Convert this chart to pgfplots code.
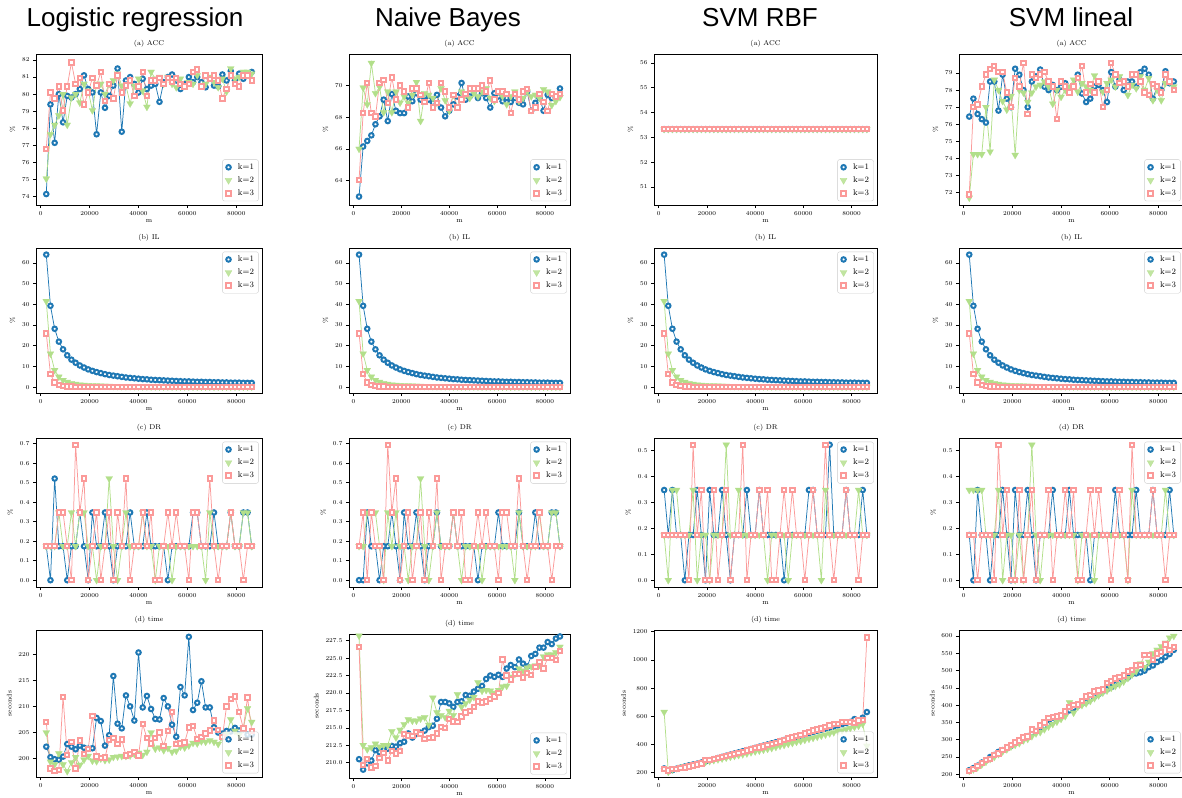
\documentclass[border=0pt]{standalone}
\usepackage{fontspec}
\usepackage{pgfplots}
\usepackage{pgfplotstable}
\pgfplotsset{compat=1.18}
\newfontfamily\headfont{Liberation Sans}
\definecolor{c1}{HTML}{1F78B4}
\definecolor{c2}{HTML}{B2DF8A}
\definecolor{c3}{HTML}{FB9A99}
\pgfkeys{/pgf/number format/.cd,1000 sep={}}

\pgfplotstableread{
m A1 B1 C1 A2 B2 C2 A3 B3 C3 A4 B4 C4
2290 74.15 75.05 76.8 63.0 66.0 64.05 53.33 53.33 53.33 76.45 71.7 71.9
4005 79.4 77.65 80.1 66.15 69.85 68.25 53.33 53.33 53.33 77.5 74.25 77.0
5720 77.15 78.2 79.75 66.5 68.8 70.15 53.33 53.33 53.33 76.6 74.25 77.15
7435 80.0 78.75 80.45 66.85 71.4 68.25 53.33 53.33 53.33 76.3 74.25 78.2
9150 78.35 80.0 79.05 67.55 69.5 68.05 53.33 53.33 53.33 76.1 77.0 78.9
10865 79.9 78.2 80.45 68.05 69.9 70.15 53.33 53.33 53.33 78.5 74.4 79.25
12580 79.8 79.8 81.85 69.1 68.3 70.35 53.33 53.33 53.33 78.5 78.6 79.4
14295 80.0 80.0 80.6 67.75 69.6 68.9 53.33 53.33 53.33 76.8 78.0 79.05
16010 80.3 79.5 80.95 69.45 68.3 70.5 53.33 53.33 53.33 78.9 77.35 79.05
17725 81.1 80.6 79.4 68.4 69.6 69.1 53.33 53.33 53.33 77.5 76.85 77.85
19440 80.3 80.2 80.1 68.25 68.9 70.0 53.33 53.33 53.33 77.0 77.65 77.0
21155 80.1 79.05 80.95 68.25 69.3 69.6 53.33 53.33 53.33 79.25 74.2 78.7
22870 77.65 80.6 80.5 69.3 68.9 68.6 53.33 53.33 53.33 78.9 78.0 78.2
24585 80.1 80.6 81.3 69.0 69.4 69.8 53.33 53.33 53.33 78.0 77.85 79.6
26300 79.2 80.0 79.6 69.5 70.2 69.8 53.33 53.33 53.33 77.0 77.3 76.6
28015 79.9 80.6 80.6 69.1 67.75 69.4 53.33 53.33 53.33 78.5 77.85 78.9
29730 80.5 80.8 79.75 69.3 69.5 68.95 53.33 53.33 53.33 78.8 78.2 78.7
31445 81.5 81.2 81.1 69.1 69.4 70.15 53.33 53.33 53.33 79.2 78.3 78.9
33160 77.8 80.5 80.1 68.9 69.2 68.6 53.33 53.33 53.33 78.2 78.5 79.05
34875 80.8 80.5 80.5 69.4 68.9 68.9 53.33 53.33 53.33 78.0 78.2 78.5
36590 81.0 79.45 80.8 68.6 69.8 70.15 53.33 53.33 53.33 78.3 77.2 78.2
38305 80.6 80.5 79.9 68.05 69.05 69.6 53.33 53.33 53.33 78.0 78.0 76.3
40020 80.1 80.9 80.45 68.4 68.4 68.6 53.33 53.33 53.33 78.2 77.6 78.5
41735 80.9 80.2 81.3 68.8 69.4 69.4 53.33 53.33 53.33 78.4 78.0 78.2
43450 80.3 79.25 79.9 69.3 68.65 68.6 53.33 53.33 53.33 78.0 78.2 77.85
45165 80.5 81.3 80.8 70.15 69.6 69.1 53.33 53.33 53.33 78.2 78.6 78.2
46880 80.6 80.9 80.8 69.1 69.4 69.45 53.33 53.33 53.33 78.9 77.9 78.7
48595 79.55 81.0 80.95 69.3 69.2 69.8 53.33 53.33 53.33 77.8 78.4 79.4
50310 80.7 80.6 80.6 69.6 69.5 69.8 53.33 53.33 53.33 77.3 78.2 77.85
52025 81.0 81.0 80.95 69.2 69.3 69.8 53.33 53.33 53.33 77.5 78.0 78.35
53740 81.15 80.6 80.7 69.5 69.6 70.0 53.33 53.33 53.33 78.2 78.85 77.85
55455 80.8 80.4 80.95 69.2 69.8 69.6 53.33 53.33 53.33 78.3 78.5 78.5
57170 80.3 80.9 80.6 68.6 69.2 70.3 53.33 53.33 53.33 78.0 77.9 77.0
58885 80.6 80.5 80.45 69.5 69.0 69.1 53.33 53.33 53.33 77.3 78.4 78.0
60600 81.0 80.7 80.6 69.3 69.6 69.6 53.33 53.33 53.33 79.05 78.6 79.6
62315 80.7 80.6 81.3 69.0 69.3 69.6 53.33 53.33 53.33 78.2 78.2 78.9
64030 81.0 81.1 81.45 69.2 68.8 69.45 53.33 53.33 53.33 78.6 78.8 78.4
65745 80.7 80.5 80.45 68.95 69.3 68.25 53.33 53.33 53.33 78.0 78.5 78.5
67460 80.4 80.6 81.1 69.2 69.6 69.45 53.33 53.33 53.33 78.5 77.7 78.2
69175 80.9 81.0 80.9 68.9 69.0 69.1 53.33 53.33 53.33 78.5 78.3 78.9
70890 80.5 80.7 81.1 68.8 69.2 69.6 53.33 53.33 53.33 78.2 78.1 78.9
72605 80.45 80.4 80.8 69.6 69.6 69.75 53.33 53.33 53.33 79.05 78.8 78.5
74320 81.15 80.9 79.75 68.4 69.3 68.4 53.33 53.33 53.33 79.25 78.0 77.85
76035 80.8 80.15 80.3 68.9 69.4 68.6 53.33 53.33 53.33 78.9 78.7 77.7
77750 81.35 81.5 81.1 69.2 69.2 69.45 53.33 53.33 53.33 77.5 77.4 78.35
79465 80.8 80.9 80.6 68.4 69.75 68.95 53.33 53.33 53.33 78.2 78.0 78.2
81180 81.2 81.0 80.45 69.4 69.6 68.4 53.33 53.33 53.33 78.0 77.4 77.85
82895 80.9 81.3 81.1 69.2 68.75 69.45 53.33 53.33 53.33 79.1 78.4 78.9
84610 81.1 81.3 81.1 69.3 69.0 69.3 53.33 53.33 53.33 78.4 78.5 78.5
86325 81.3 81.2 80.8 69.8 69.25 69.45 53.33 53.33 53.33 78.5 78.2 78.0
}\accT

\pgfplotstableread{
m A B C
2290 64.0 41.5 26.0
4005 39.3 16.2 6.3
5720 28.2 8.2 2.3
7435 22.0 5.0 1.1
9150 18.3 3.4 0.65
10865 15.4 2.5 0.42
12580 13.3 1.9 0.30
14295 11.8 1.5 0.22
16010 10.5 1.25 0.17
17725 9.5 1.05 0.13
19440 8.6 0.92 0.11
21155 7.9 0.82 0.09
22870 7.3 0.74 0.08
24585 6.8 0.67 0.07
26300 6.3 0.61 0.06
28015 5.9 0.56 0.05
29730 5.6 0.52 0.05
31445 5.3 0.48 0.04
33160 5.0 0.45 0.04
34875 4.7 0.42 0.04
36590 4.5 0.40 0.03
38305 4.3 0.38 0.03
40020 4.1 0.36 0.03
41735 3.9 0.34 0.03
43450 3.8 0.33 0.03
45165 3.6 0.31 0.03
46880 3.5 0.30 0.03
48595 3.4 0.29 0.03
50310 3.3 0.28 0.03
52025 3.2 0.27 0.03
53740 3.1 0.26 0.03
55455 3.0 0.25 0.02
57170 2.9 0.24 0.02
58885 2.8 0.23 0.02
60600 2.8 0.23 0.02
62315 2.7 0.22 0.02
64030 2.6 0.21 0.02
65745 2.6 0.21 0.02
67460 2.5 0.20 0.02
69175 2.5 0.20 0.02
70890 2.4 0.19 0.02
72605 2.4 0.19 0.02
74320 2.3 0.18 0.02
76035 2.3 0.18 0.02
77750 2.2 0.17 0.02
79465 2.2 0.17 0.02
81180 2.2 0.17 0.02
82895 2.1 0.16 0.02
84610 2.1 0.16 0.02
86325 2.1 0.16 0.02
}\ilT

\pgfplotstableread{
m A1 B1 C1 A2 B2 C2 A3 B3 C3 A4 B4 C4
2290 0.174 0.174 0.174 0 0.174 0.174 0.347 0.174 0.174 0.174 0.347 0.174
4005 0 0.174 0.174 0 0.174 0.347 0.174 0 0.174 0 0.347 0.174
5720 0.521 0.174 0.174 0.347 0.347 0 0.347 0.347 0.174 0.347 0.347 0
7435 0.174 0.347 0.347 0.174 0.347 0.347 0.174 0.347 0.174 0.174 0.347 0.174
9150 0.174 0.174 0.347 0.174 0.347 0.174 0.174 0.174 0.174 0.174 0.174 0.174
10865 0 0.174 0.174 0 0.174 0.174 0 0.174 0.174 0 0.174 0.174
12580 0.174 0.347 0 0.174 0 0 0.174 0.174 0 0.174 0.174 0
14295 0.174 0.174 0.694 0.174 0.347 0.694 0.174 0.347 0.521 0.174 0.347 0.521
16010 0.347 0.347 0.347 0.347 0.174 0.347 0.347 0 0.174 0.347 0 0.174
17725 0.174 0.347 0.521 0.174 0.347 0.521 0.174 0.174 0.347 0.174 0.174 0.347
19440 0 0.174 0 0 0.174 0 0 0.174 0 0 0.174 0
21155 0.347 0.174 0.174 0.347 0.174 0.174 0.347 0 0 0.347 0 0
22870 0.174 0 0.347 0.174 0 0.347 0.174 0.174 0.347 0.174 0.174 0.347
24585 0.174 0.174 0 0.174 0.174 0 0.174 0.174 0 0.174 0 0
26300 0.347 0.174 0.174 0.347 0.174 0.174 0.347 0.174 0.174 0.347 0.174 0.174
28015 0.174 0.521 0.347 0.174 0.521 0.347 0.174 0.521 0.347 0.174 0.521 0.347
29730 0 0.174 0 0 0.174 0 0 0.174 0 0 0.174 0
31445 0.174 0 0.347 0.174 0 0.347 0.174 0.174 0.174 0.174 0 0.174
33160 0.174 0.174 0.174 0.174 0.174 0.174 0.174 0.347 0.174 0.174 0.174 0.174
34875 0.174 0.347 0.521 0.347 0.347 0.521 0.174 0.174 0.521 0.174 0.174 0.347
36590 0.347 0.174 0 0.174 0.174 0 0.347 0.174 0 0.347 0.174 0
38305 0.174 0.174 0.174 0.174 0.174 0.174 0.174 0.174 0.174 0.174 0.174 0.174
40020 0.174 0.174 0.174 0.174 0.174 0.174 0.174 0.174 0.174 0.174 0.174 0.174
41735 0.174 0.347 0.347 0.347 0.347 0.347 0.347 0.174 0.347 0.174 0.174 0.347
43450 0.347 0.174 0.174 0.174 0.174 0.174 0.174 0.174 0.174 0.347 0.174 0.174
45165 0.174 0.174 0.347 0.174 0 0.347 0.174 0 0.347 0.174 0.174 0.347
46880 0.174 0 0 0.174 0.174 0 0.174 0.174 0 0.174 0 0
48595 0.174 0.174 0 0.174 0.174 0 0.174 0.174 0 0.174 0.174 0
50310 0.174 0.174 0.174 0.174 0.174 0.174 0.174 0.174 0.174 0.174 0.174 0.174
52025 0 0.174 0.347 0 0.174 0.347 0 0.174 0.347 0 0.174 0.347
53740 0.174 0 0.174 0.174 0 0.174 0.174 0 0.174 0.174 0 0.174
55455 0.174 0.174 0.347 0.174 0.174 0.347 0.174 0.174 0.347 0.174 0.174 0.347
57170 0.174 0.174 0.174 0.174 0.174 0.174 0.174 0.174 0.174 0.174 0.174 0.174
58885 0.174 0.174 0.174 0.174 0.174 0.174 0.174 0.174 0.174 0.174 0.174 0.174
60600 0.174 0.174 0 0.347 0.174 0 0.174 0.174 0 0.174 0.174 0
62315 0.347 0.174 0.347 0.174 0.174 0.347 0.347 0.174 0.174 0.347 0.174 0.174
64030 0.347 0.174 0.347 0.174 0.174 0.347 0.347 0.174 0.347 0.174 0.174 0.347
65745 0.174 0.174 0.174 0.174 0.174 0.174 0.174 0.174 0.174 0.174 0.174 0.174
67460 0.174 0 0.174 0.174 0 0.174 0.174 0 0.174 0.174 0 0
69175 0.174 0.347 0.521 0.347 0.347 0.521 0.174 0.347 0.521 0.174 0.347 0.521
70890 0.347 0.174 0.174 0.174 0.174 0.174 0.521 0.174 0.174 0.347 0.174 0.174
72605 0.174 0.174 0 0.174 0.174 0 0.174 0.174 0 0.174 0.174 0.174
74320 0.174 0.174 0.174 0.174 0.174 0.174 0.174 0.174 0.174 0.174 0.174 0.174
76035 0.174 0.174 0.174 0.347 0.174 0.174 0.174 0.174 0.174 0.174 0.174 0.174
77750 0.347 0.347 0.347 0.174 0.347 0.347 0.347 0.174 0.347 0.347 0.174 0.347
79465 0.174 0.174 0.174 0.174 0.174 0.174 0.174 0.174 0.174 0.174 0.174 0.174
81180 0.174 0.174 0.174 0.174 0.174 0.174 0.174 0.174 0.174 0.174 0.174 0.174
82895 0.347 0.347 0 0.347 0.347 0 0.174 0.347 0 0.174 0.347 0
84610 0.347 0.347 0.174 0.347 0.347 0.174 0.347 0.174 0.174 0.347 0.174 0.174
86325 0.174 0.174 0.174 0.174 0.174 0.174 0.174 0.174 0.174 0.174 0.174 0.174
}\drT

\pgfplotstableread{
m A1 B1 C1 A2 B2 C2 A3 B3 C3 A4 B4 C4
2290 202.3 205.0 207.0 210.5 228.2 226.6 230 630 225 212 210 210
4005 200.3 199.4 198.1 209.0 212.5 209.7 215 205 215 218 214 215
5720 199.9 198.9 197.7 209.9 211.9 210.5 218 222 225 225 220 224
7435 199.8 201.0 197.8 210.3 212.2 209.3 228 232 228 234 228 232
9150 200.4 198.9 211.8 211.8 212.7 209.5 236 240 232 240 236 242
10865 202.8 197.6 200.7 211.5 212.3 210.7 244 246 238 250 244 245
12580 202.3 199.3 203.2 211.8 212.5 211.4 252 252 244 256 250 256
14295 201.8 200.3 198.1 212.0 212.5 210.3 258 258 250 265 258 260
16010 202.5 198.8 203.5 212.4 214.5 211.7 264 264 258 270 266 270
17725 202.1 199.8 200.9 212.3 213.6 211.3 272 270 266 275 272 278
19440 201.9 200.5 201.8 212.8 214.7 211.7 280 276 288 282 280 284
21155 202.0 199.6 208.2 213.0 215.5 214.1 288 282 290 290 285 292
22870 207.8 199.5 200.4 214.2 216.2 213.9 296 288 298 296 290 298
24585 207.2 200.0 200.1 213.6 216.0 213.8 304 294 304 304 298 307
26300 202.5 199.7 200.2 214.1 216.0 214.4 312 300 312 310 302 309
28015 204.5 199.8 203.6 214.3 216.3 214.1 320 306 320 318 310 330
29730 215.8 200.3 203.9 214.6 216.5 213.4 328 312 326 325 318 326
31445 206.7 200.4 202.8 215.1 215.4 213.5 336 318 334 333 322 341
33160 205.8 200.5 203.7 215.3 219.3 213.6 344 324 340 338 330 350
34875 212.1 200.5 200.6 216.3 217.2 214.2 352 330 348 345 338 363
36590 210.0 200.6 200.9 218.7 216.8 215.1 360 336 356 352 345 365
38305 207.3 200.9 201.3 218.7 216.5 215.0 368 344 364 360 352 367
40020 220.3 201.1 200.6 218.5 217.4 216.3 376 350 374 368 360 370
41735 209.8 200.7 206.6 218.0 216.8 215.9 384 356 380 376 368 382
43450 212.0 201.3 203.9 218.7 219.8 215.8 392 362 386 385 408 394
45165 209.5 205.0 202.9 218.8 218.0 216.6 400 368 396 392 378 401
46880 207.6 201.9 203.9 219.7 218.5 217.2 408 374 404 398 395 402
48595 207.5 202.1 205.0 219.6 219.0 217.4 416 382 412 405 400 412
50310 211.6 201.6 202.4 220.2 219.4 218.0 424 390 422 410 405 425
52025 210.0 202.0 205.3 220.6 221.5 218.8 432 396 432 418 412 430
53740 206.5 201.3 208.9 221.0 220.3 218.6 440 404 442 425 420 440
55455 204.2 201.5 202.8 222.0 220.4 218.8 448 410 450 432 428 443
57170 213.7 202.3 202.9 222.5 220.3 219.1 456 418 460 440 436 445
58885 212.1 202.1 203.1 222.3 220.0 219.5 464 424 468 446 442 465
60600 223.3 202.5 206.0 222.6 220.4 220.0 472 432 478 452 450 470
62315 209.3 203.0 206.3 222.3 220.9 224.8 480 440 488 460 455 477
64030 210.7 202.9 203.8 223.5 221.0 222.5 488 446 498 466 460 482
65745 214.8 203.3 204.2 224.0 222.3 221.9 496 454 506 474 468 486
67460 209.8 203.2 204.8 223.7 222.7 222.7 504 462 514 480 478 498
69175 209.8 203.5 205.4 224.8 223.5 222.7 512 470 526 490 488 501
70890 206.0 203.2 207.3 224.2 223.2 222.2 520 478 536 492 498 515
72605 205.0 202.8 205.5 223.8 223.6 222.9 528 486 546 495 520 517
74320 204.8 204.0 204.2 225.3 223.8 222.6 536 494 546 500 510 545
76035 205.3 204.7 210.0 225.6 223.9 223.7 544 500 560 510 525 545
77750 205.2 207.5 211.4 226.5 224.0 224.4 552 508 560 515 550 530
79465 205.9 205.3 211.9 226.5 225.2 223.5 560 516 558 525 560 550
81180 205.4 204.6 208.9 227.3 225.5 225.0 580 524 552 530 570 554
82895 205.6 205.9 205.8 227.0 225.5 225.0 570 532 570 540 580 576
84610 204.6 209.6 211.7 227.8 225.8 224.7 590 545 575 548 595 559
86325 204.6 207.0 205.3 228.1 226.6 226.0 630 390 1160 560 600 569
}\tmT

\pgfplotsset{
  s1/.style={color=c1, line width=0.75pt, mark=*, mark size=2.25pt,
    mark options={solid, fill=white, draw=c1, line width=2pt}},
  s2/.style={color=c2, line width=0.75pt, mark=triangle*, mark size=4.0pt,
    mark options={solid, fill=c2, draw=c2, line width=0.2pt, rotate=180}},
  s3/.style={color=c3, line width=0.75pt, mark=square*, mark size=2.2pt,
    mark options={solid, fill=white, draw=c3, line width=2pt}},
  base/.style={
    scale only axis,
    xmin=-1912, xmax=90527,
    xtick={0,20000,40000,60000,80000},
    scaled x ticks=false, scaled y ticks=false,
    tick align=outside, tick pos=left,
    major tick length=3pt,
    every tick/.style={black, line width=0.6pt},
    axis line style={line width=0.65pt},
    tick label style={font=\fontsize{6.3}{7}\selectfont},
    label style={font=\fontsize{6.8}{7.5}\selectfont},
    xlabel={m},
    xlabel style={yshift=3pt},
    title style={font=\fontsize{7}{8}\selectfont, yshift=-2.5pt},
    legend cell align=left,
    legend image code/.code={\draw[mark repeat=2,mark phase=2,##1] plot coordinates {(0cm,0cm) (0.24cm,0cm) (0.48cm,0cm)};},
    legend style={font=\fontsize{8.3}{9}\selectfont, draw=black!20, rounded corners=2pt,
      fill=white, fill opacity=0.8, text opacity=1, inner xsep=2.5pt, inner ysep=2pt,
      row sep=1.8pt, /tikz/every odd column/.append style={column sep=4pt}},
  },
  lr/.style={legend style={at={(0.985,0.025)},anchor=south east}},
  ur/.style={legend style={at={(0.985,0.975)},anchor=north east}},
  dec1/.style={yticklabel style={/pgf/number format/.cd,fixed,fixed zerofill,precision=1}},
}

\newcommand\trio[2]{%
  \addplot[s1,forget plot] table[x=m,y=A#2]{#1};
  \addplot[s2,forget plot] table[x=m,y=B#2]{#1};
  \addplot[s3,forget plot] table[x=m,y=C#2]{#1};
  \addlegendimage{s1,only marks}\addlegendentry{k=1}
  \addlegendimage{s2,only marks}\addlegendentry{k=2}
  \addlegendimage{s3,only marks}\addlegendentry{k=3}
}

\begin{document}
\begin{tikzpicture}
\useasboundingbox (0pt,0pt) rectangle (1182pt,-797pt);
\node[anchor=base, font=\headfont\fontsize{26}{30}\selectfont] at (135pt,-27pt) {Logistic regression};
\node[anchor=base, font=\headfont\fontsize{26}{30}\selectfont] at (448pt,-27pt) {Naive Bayes};
\node[anchor=base, font=\headfont\fontsize{26}{30}\selectfont] at (760pt,-27pt) {SVM RBF};
\node[anchor=base, font=\headfont\fontsize{26}{30}\selectfont] at (1071pt,-27pt) {SVM lineal};

% ---------- Row 1: ACC ----------
\begin{axis}[base, lr, at={(36pt,-205pt)}, anchor=south west, width=226pt, height=151pt,
  ymin=73.51, ymax=82.35, ytick={74,75,...,82}, title={(a) ACC}, ylabel={\%}]
\trio{\accT}{1}
\end{axis}
\begin{axis}[base, lr, at={(349pt,-205pt)}, anchor=south west, width=221pt, height=151pt,
  ymin=62.47, ymax=71.97, ytick={64,66,68,70}, title={(a) ACC}, ylabel={\%}]
\trio{\accT}{2}
\end{axis}
\begin{axis}[base, lr, at={(654pt,-205pt)}, anchor=south west, width=223pt, height=151pt,
  ymin=50.27, ymax=56.36, ytick={51,52,...,56}, title={(a) ACC}, ylabel={\%}]
\trio{\accT}{3}
\end{axis}
\begin{axis}[base, lr, at={(959pt,-205pt)}, anchor=south west, width=225pt, height=151pt,
  ymin=71.28, ymax=80.11, ytick={72,73,...,79}, title={(a) ACC}, ylabel={\%}]
\trio{\accT}{4}
\end{axis}

% ---------- Row 2: IL ----------
\begin{axis}[base, ur, at={(36pt,-393pt)}, anchor=south west, width=226pt, height=145pt,
  ymin=-2.8, ymax=67.2, ytick={0,10,...,60}, title={(b) IL}, ylabel={\%}]
\trio{\ilT}{}
\end{axis}
\begin{axis}[base, ur, at={(349pt,-393pt)}, anchor=south west, width=221pt, height=145pt,
  ymin=-2.8, ymax=67.2, ytick={0,10,...,60}, title={(b) IL}, ylabel={\%}]
\trio{\ilT}{}
\end{axis}
\begin{axis}[base, ur, at={(654pt,-393pt)}, anchor=south west, width=223pt, height=145pt,
  ymin=-2.8, ymax=67.2, ytick={0,10,...,60}, title={(b) IL}, ylabel={\%}]
\trio{\ilT}{}
\end{axis}
\begin{axis}[base, ur, at={(959pt,-393pt)}, anchor=south west, width=225pt, height=145pt,
  ymin=-2.8, ymax=67.2, ytick={0,10,...,60}, title={(b) IL}, ylabel={\%}]
\trio{\ilT}{}
\end{axis}

% ---------- Row 3: DR ----------
\begin{axis}[base, ur, dec1, at={(36pt,-587pt)}, anchor=south west, width=226pt, height=149pt,
  ymin=-0.035, ymax=0.729, ytick={0,0.1,...,0.7}, title={(c) DR}, ylabel={\%}]
\trio{\drT}{1}
\end{axis}
\begin{axis}[base, ur, dec1, at={(349pt,-587pt)}, anchor=south west, width=221pt, height=149pt,
  ymin=-0.035, ymax=0.729, ytick={0,0.1,...,0.7}, title={(c) DR}, ylabel={\%}]
\trio{\drT}{2}
\end{axis}
\begin{axis}[base, ur, dec1, at={(654pt,-587pt)}, anchor=south west, width=223pt, height=149pt,
  ymin=-0.026, ymax=0.547, ytick={0,0.1,...,0.5}, title={(c) DR}, ylabel={\%}]
\trio{\drT}{3}
\end{axis}
\begin{axis}[base, ur, dec1, at={(959pt,-587pt)}, anchor=south west, width=225pt, height=149pt,
  ymin=-0.026, ymax=0.547, ytick={0,0.1,...,0.5}, title={(d) DR}, ylabel={\%}]
\trio{\drT}{4}
\end{axis}

% ---------- Row 4: time ----------
\begin{axis}[base, lr, at={(36pt,-777pt)}, anchor=south west, width=226pt, height=147pt,
  ymin=196.5, ymax=224.6, ytick={200,205,...,220}, title={(d) time}, ylabel={seconds}]
\trio{\tmT}{1}
\end{axis}
\begin{axis}[base, lr, dec1, at={(349pt,-778pt)}, anchor=south west, width=221pt, height=144pt,
  ymin=207.8, ymax=228.45, ytick={210,212.5,...,227.5}, title={(d) time}, ylabel={seconds}]
\trio{\tmT}{2}
\end{axis}
\begin{axis}[base, lr, at={(654pt,-777pt)}, anchor=south west, width=223pt, height=147pt,
  ymin=169.3, ymax=1211.8, ytick={200,400,...,1200}, title={(d) time}, ylabel={seconds}]
\trio{\tmT}{3}
\end{axis}
\begin{axis}[base, lr, at={(959pt,-777pt)}, anchor=south west, width=225pt, height=147pt,
  ymin=192.2, ymax=617.5, ytick={200,250,...,600}, title={(d) time}, ylabel={seconds}]
\trio{\tmT}{4}
\end{axis}
\end{tikzpicture}
\end{document}
